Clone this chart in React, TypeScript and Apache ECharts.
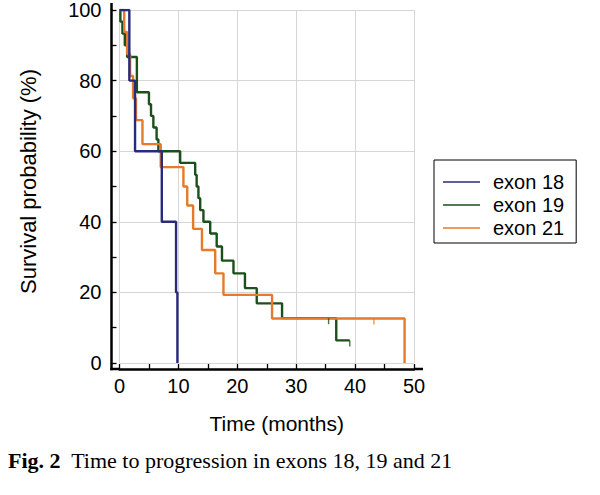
import React, { useEffect, useRef } from "react";
import * as echarts from "echarts";

// ---- Data ----
const seriesNames = ["exon 18", "exon 19", "exon 21"];
const seriesColors = ["#2a2a7c", "#1b4f1b", "#e67a2a"];

const exon18Time = [0, 1.67, 2.64, 7.18, 9.6, 9.83];
const exon18Surv = [100, 80, 60, 40, 20, 0];

const exon19Time = [0, 0.15, 0.5, 0.9, 1.3, 2.95, 5.0, 5.35, 5.75, 6.3, 6.6, 10.3, 12.85, 13.1, 13.4, 13.7, 14.25, 15.4, 16.5, 17.4, 19.35, 21.3, 23.3, 27.6, 36.8, 39.1];
const exon19Surv = [100, 96.7, 93.3, 90, 86.7, 76.7, 73.3, 70, 66.7, 63.3, 60, 56.7, 53.3, 50, 46.7, 43.3, 40, 36.7, 33, 29, 25.4, 21.2, 16.9, 12.7, 6.4, 6.4];
const exon19CensorTime = [35.5, 39.1];
const exon19CensorSurv = [12.7, 6.4];

const exon21Time = [0, 0.8, 1.3, 1.8, 2.3, 2.8, 3.9, 7.0, 10.85, 11.5, 12.5, 14.0, 16.25, 17.65, 25.9, 48.4];
const exon21Surv = [100, 93.8, 87.5, 81.3, 75, 68.8, 62, 55.5, 50, 44.6, 38, 32, 25.4, 19.3, 12.6, 0];
const exon21CensorTime = [43.2];
const exon21CensorSurv = [12.6];

const xMin = 0, xMax = 50, xInterval = 10;
const yMin = 0, yMax = 100, yInterval = 20;

const caption = "Time to progression in exons 18, 19 and 21";
const captionLabel = "Fig. 2";

function pairs(t: number[], s: number[]) {
  return t.map((v, i) => [v, s[i]]);
}

const SANS = "'Liberation Sans', Arial, Helvetica, sans-serif";
const SERIF = "'Liberation Serif', 'Times New Roman', serif";

// legend icon: a thin horizontal line centred in a 37x14 box
const LEGEND_LINE_ICON =
  "path://M0,0H0.01V0.01H0Z M0,6.3H37V7.7H0Z M36.99,13.99H37V14H36.99Z";

export default function App() {
  const ref = useRef<HTMLDivElement>(null);

  useEffect(() => {
    if (!ref.current) return;
    const chart = echarts.init(ref.current, null, { renderer: "svg" });

    const gridLeft = 119.5, gridRight = 186, gridTop = 10, gridBottom = 132;
    const yOffset = 8, xOffset = 6;
    const axisX = gridLeft - yOffset; // pixel x of y-axis line
    const axisY = 495 - gridBottom + xOffset; // pixel y of x-axis line

    const axisCommon = {
      axisLine: { show: true, onZero: false, lineStyle: { color: "#000", width: 2.5 } },
      axisTick: { show: true, inside: true, length: 5, lineStyle: { color: "#000", width: 1.3 } },
      minorTick: { show: true, splitNumber: 2, length: 5, lineStyle: { color: "#000", width: 1.3 } },
      splitLine: { show: true, lineStyle: { color: "#d6d6d6", width: 1 } },
    };

    const lineSeries = [
      { name: seriesNames[0], data: pairs(exon18Time, exon18Surv), color: seriesColors[0], z: 4 },
      { name: seriesNames[1], data: pairs(exon19Time, exon19Surv), color: seriesColors[1], z: 2 },
      { name: seriesNames[2], data: pairs(exon21Time, exon21Surv), color: seriesColors[2], z: 3 },
    ].map((s) => ({
      type: "line",
      name: s.name,
      data: s.data,
      step: "end",
      symbol: "none",
      showSymbol: false,
      z: s.z,
      lineStyle: { color: s.color, width: 2.4 },
      itemStyle: { color: s.color },
    }));

    const censorSeries = [
      { name: "c19", data: pairs(exon19CensorTime, exon19CensorSurv), color: seriesColors[1] },
      { name: "c21", data: pairs(exon21CensorTime, exon21CensorSurv), color: seriesColors[2] },
    ].map((s) => ({
      type: "scatter",
      name: s.name,
      data: s.data,
      symbol: "rect",
      symbolSize: [1.4, 6],
      symbolOffset: [0, 3],
      z: 5,
      itemStyle: { color: s.color },
      silent: true,
    }));

    chart.setOption({
      animation: false,
      backgroundColor: "#fff",
      grid: { left: gridLeft, right: gridRight, top: gridTop, bottom: gridBottom },
      xAxis: {
        type: "value",
        min: xMin,
        max: xMax,
        interval: xInterval,
        offset: xOffset,
        ...axisCommon,
        axisLabel: { fontSize: 20, color: "#000", fontFamily: SANS, margin: 7 },
        name: "Time (months)",
        nameLocation: "middle",
        nameGap: 44,
        nameTextStyle: { fontSize: 21, color: "#000", fontFamily: SANS, padding: [0, 0, 0, 20] },
      },
      yAxis: {
        type: "value",
        min: yMin,
        max: yMax,
        interval: yInterval,
        offset: yOffset,
        ...axisCommon,
        axisLabel: { fontSize: 20, color: "#000", fontFamily: SANS, margin: 10 },
        name: "Survival probability (%)",
        nameLocation: "middle",
        nameGap: 72,
        nameTextStyle: { fontSize: 22, color: "#000", fontFamily: SANS, padding: [0, 0, 0, 10] },
      },
      legend: {
        data: seriesNames.map((n) => ({ name: n, icon: LEGEND_LINE_ICON })),
        orient: "vertical",
        left: 434,
        top: 160,
        padding: [12, 12, 5, 9],
        itemWidth: 37,
        itemHeight: 14,
        itemGap: 3,
        borderColor: "#000",
        borderWidth: 1,
        textStyle: { fontSize: 20, color: "#000", fontFamily: SANS, padding: [0, 0, 0, 8] },
        selectedMode: false,
      },
      graphic: [
        {
          type: "line",
          shape: { x1: axisX, y1: 3, x2: axisX, y2: gridTop },
          style: { stroke: "#000", lineWidth: 2.5 },
          silent: true,
        },
        {
          type: "line",
          shape: { x1: axisX, y1: 495 - gridBottom, x2: axisX, y2: axisY + 1.25 },
          style: { stroke: "#000", lineWidth: 2.5 },
          silent: true,
        },
        {
          type: "line",
          shape: { x1: axisX - 1.25, y1: axisY, x2: gridLeft, y2: axisY },
          style: { stroke: "#000", lineWidth: 2.5 },
          silent: true,
        },
        {
          type: "line",
          shape: { x1: 600 - gridRight, y1: axisY, x2: 600 - gridRight + 9, y2: axisY },
          style: { stroke: "#000", lineWidth: 2.5 },
          silent: true,
        },
        {
          type: "text",
          left: 8,
          top: 449,
          style: {
            text: "{b|" + captionLabel + "}  " + caption,
            font: "22px " + SERIF,
            fill: "#000",
            rich: {
              b: { fontWeight: "bold", fontSize: 22, fontFamily: SERIF, fill: "#000" },
            },
          },
          silent: true,
        },
      ],
      series: [...lineSeries, ...censorSeries],
    });

    return () => chart.dispose();
  }, []);

  return (
    <div
      ref={ref}
      style={{ position: "fixed", left: 0, top: 0, width: 600, height: 495, background: "#fff" }}
    />
  );
}
